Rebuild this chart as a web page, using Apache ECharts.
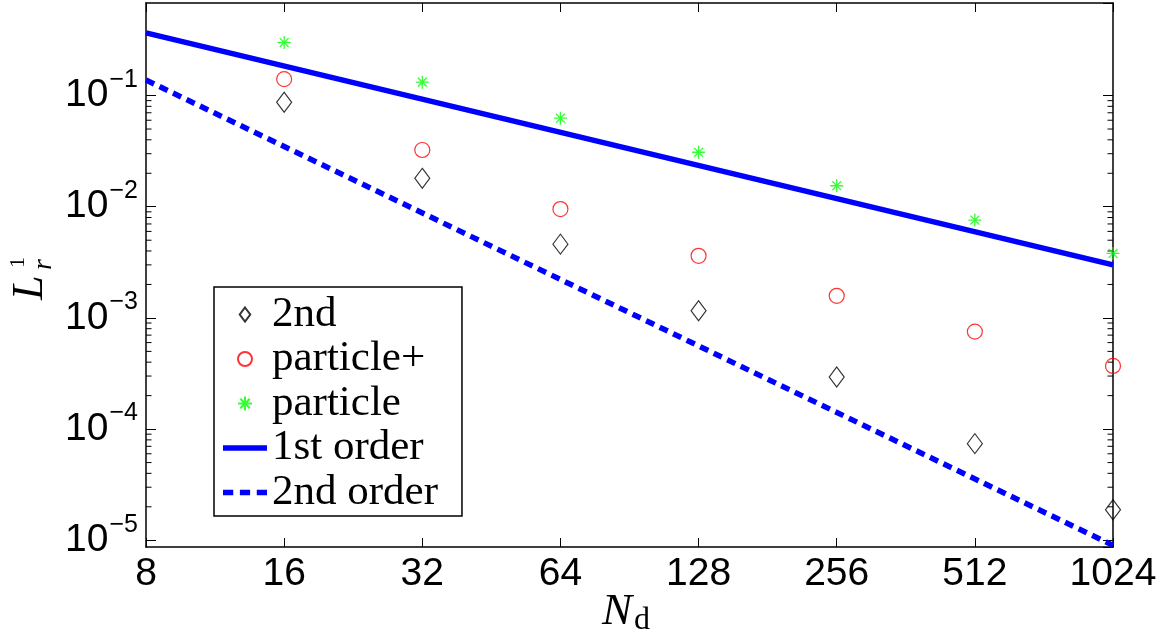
<!DOCTYPE html>
<html>
<head>
<meta charset="utf-8">
<script src="https://cdn.jsdelivr.net/npm/echarts@6/dist/echarts.min.js"></script>
<style>
  html, body { margin: 0; padding: 0; background: #fff; }
  #main { width: 1169px; height: 639px; }
</style>
</head>
<body>
<div id="main"></div>
<script>
// grid resolutions
var nd = [16, 32, 64, 128, 256, 512, 1024];
// L1 errors
var err2nd = [0.0872, 0.0180, 0.00461, 0.00116, 2.94e-4, 7.40e-5, 1.88e-5];
var errParticlePlus = [0.1405, 0.0324, 0.00953, 0.00362, 0.00158, 7.53e-4, 3.70e-4];
var errParticle = [0.300, 0.132, 0.0626, 0.0309, 0.01545, 0.00759, 0.0038];
// reference slopes
var refX = [8, 1024];
var ref1st = [0.366, 0.00300];
var ref2nd = [0.138, 9.0e-6];
// minor ticks of the y axis
var minorMant = [2, 3, 4, 5, 6, 7, 8, 9];
var minorExp = [-5, -4, -3, -2];

var X_MIN = 8, X_MAX = 1024, Y_MIN = 8.7e-6, Y_MAX = 0.68;

function pairs(xs, ys) {
	return xs.map(function (x, i) { return [x, ys[i]]; });
}
var minorData = [];
minorExp.forEach(function (e) {
	minorMant.forEach(function (m) { minorData.push([X_MIN, m * Math.pow(10, e)]); });
});

var black = '#000';
var blue = '#0000ff';
var starPath = 'path://M5 0L5 10M0 5L10 5M1.6 1.6L8.4 8.4M1.6 8.4L8.4 1.6';
var diamondPath = 'path://M7.5 0L15 10L7.5 20L0 10Z';
// legend icons for the two reference lines
var solidIcon = 'path://M0 0H44V5.5H0Z';
var dashIcon = 'path://M0 0H10V5.5H0Z M16.5 0H26.5V5.5H16.5Z M33 0H43V5.5H33Z';

var axisLine = { show: true, onZero: false, lineStyle: { color: black, width: 1.5 } };

var option = {
	animation: false,
	backgroundColor: '#fff',
	grid: { left: 146, right: 56, top: 3, bottom: 92 },
	legend: {
		orient: 'vertical',
		left: 214,
		top: 287,
		padding: [6, 24, 2, 9],
		itemGap: 1.5,
		itemWidth: 44,
		itemHeight: 14,
		backgroundColor: '#fff',
		borderColor: black,
		borderWidth: 1.5,
		borderRadius: 0,
		textStyle: { fontFamily: 'Liberation Serif', fontSize: 43, lineHeight: 38, color: black },
		data: [
			{ name: '2nd' },
			{ name: 'particle+' },
			{ name: 'particle' },
			{ name: '1st order', icon: solidIcon },
			{ name: '2nd order', icon: dashIcon }
		]
	},
	xAxis: [{
		type: 'log',
		logBase: 2,
		min: X_MIN,
		max: X_MAX,
		axisLine: axisLine,
		axisTick: { inside: true, length: 9, lineStyle: { color: black, width: 1 } },
		splitLine: { show: false },
		axisLabel: {
			margin: 8,
			fontFamily: 'Liberation Sans',
			fontSize: 39,
			color: black,
			formatter: function (v) { return String(Math.round(v)); }
		}
	}, {
		type: 'log',
		logBase: 2,
		min: X_MIN,
		max: X_MAX,
		position: 'top',
		axisLine: axisLine,
		axisTick: { inside: true, length: 9, lineStyle: { color: black, width: 1 } },
		splitLine: { show: false },
		axisLabel: { show: false }
	}],
	yAxis: [{
		type: 'log',
		logBase: 10,
		min: Y_MIN,
		max: Y_MAX,
		axisLine: axisLine,
		axisTick: { inside: true, length: 10, lineStyle: { color: black, width: 1 } },
		splitLine: { show: false },
		axisLabel: {
			margin: 8,
			showMinLabel: false,
			showMaxLabel: false,
			color: black,
			formatter: function (v) {
				var e = Math.round(Math.log10(v));
				return '{b|10}{s|' + (e < 0 ? '\u2212' : '') + Math.abs(e) + '}';
			},
			rich: {
				b: { fontFamily: 'Liberation Sans', fontSize: 39, lineHeight: 39, color: black, verticalAlign: 'bottom' },
				s: { fontFamily: 'Liberation Sans', fontSize: 25, lineHeight: 25, color: black, verticalAlign: 'bottom', padding: [2.5, 0, 22.5, 1] }
			}
		}
	}, {
		type: 'log',
		logBase: 10,
		min: Y_MIN,
		max: Y_MAX,
		position: 'right',
		axisLine: axisLine,
		axisTick: { inside: true, length: 10, lineStyle: { color: black, width: 1 } },
		splitLine: { show: false },
		axisLabel: { show: false }
	}],
	graphic: [
		{ type: 'text', x: 602, y: 612, style: { text: 'N', font: 'italic 45px "Liberation Serif"', fill: black, align: 'left', verticalAlign: 'middle' } },
		{ type: 'text', x: 634, y: 621, style: { text: 'd', font: '32px "Liberation Serif"', fill: black, align: 'left', verticalAlign: 'middle' } },
		{
			type: 'group',
			x: 45, y: 298,
			rotation: Math.PI / 2,
			children: [
				{ type: 'text', x: -2, y: -15, style: { text: 'L', font: 'italic 44px "Liberation Serif"', fill: black, align: 'left', verticalAlign: 'middle' } },
				{ type: 'text', x: 30, y: -27, style: { text: '1', font: '22px "Liberation Serif"', fill: black, align: 'left', verticalAlign: 'middle' } },
				{ type: 'text', x: 28, y: -1, style: { text: 'r', font: 'italic 28px "Liberation Serif"', fill: black, align: 'left', verticalAlign: 'middle' } }
			]
		}
	],
	series: [{
		name: 'minor ticks',
		type: 'custom',
		silent: true,
		clip: false,
		data: minorData,
		renderItem: function (params, api) {
			var p = api.coord([X_MIN, api.value(1)]);
			var q = api.coord([X_MAX, api.value(1)]);
			var st = { stroke: black, lineWidth: 1 };
			return {
				type: 'group',
				children: [
					{ type: 'line', shape: { x1: p[0], y1: p[1], x2: p[0] + 5.5, y2: p[1] }, style: st },
					{ type: 'line', shape: { x1: q[0] - 5.5, y1: q[1], x2: q[0], y2: q[1] }, style: st }
				]
			};
		}
	}, {
		name: '1st order',
		type: 'line',
		data: pairs(refX, ref1st),
		symbol: 'none',
		z: 3,
		lineStyle: { color: blue, width: 5.5 },
		itemStyle: { color: blue }
	}, {
		name: '2nd order',
		type: 'line',
		data: pairs(refX, ref2nd),
		symbol: 'none',
		z: 3,
		lineStyle: { color: blue, width: 5.5, type: [9, 6] },
		itemStyle: { color: blue }
	}, {
		name: '2nd',
		type: 'scatter',
		clip: false,
		z: 4,
		data: pairs(nd, err2nd),
		symbol: diamondPath,
		symbolSize: [15, 20],
		itemStyle: { color: 'rgba(0,0,0,0)', borderColor: black, borderWidth: 1.2 }
	}, {
		name: 'particle+',
		type: 'scatter',
		clip: false,
		z: 4,
		data: pairs(nd, errParticlePlus),
		symbol: 'circle',
		symbolSize: 15,
		itemStyle: { color: 'rgba(0,0,0,0)', borderColor: '#ff0000', borderWidth: 1.2 }
	}, {
		name: 'particle',
		type: 'scatter',
		clip: false,
		z: 4,
		data: pairs(nd, errParticle),
		symbol: starPath,
		symbolSize: 13,
		itemStyle: { color: 'rgba(0,0,0,0)', borderColor: '#00ff00', borderWidth: 1.3 }
	}]
};

var chart = echarts.init(document.getElementById('main'));
chart.setOption(option);
</script>
</body>
</html>
